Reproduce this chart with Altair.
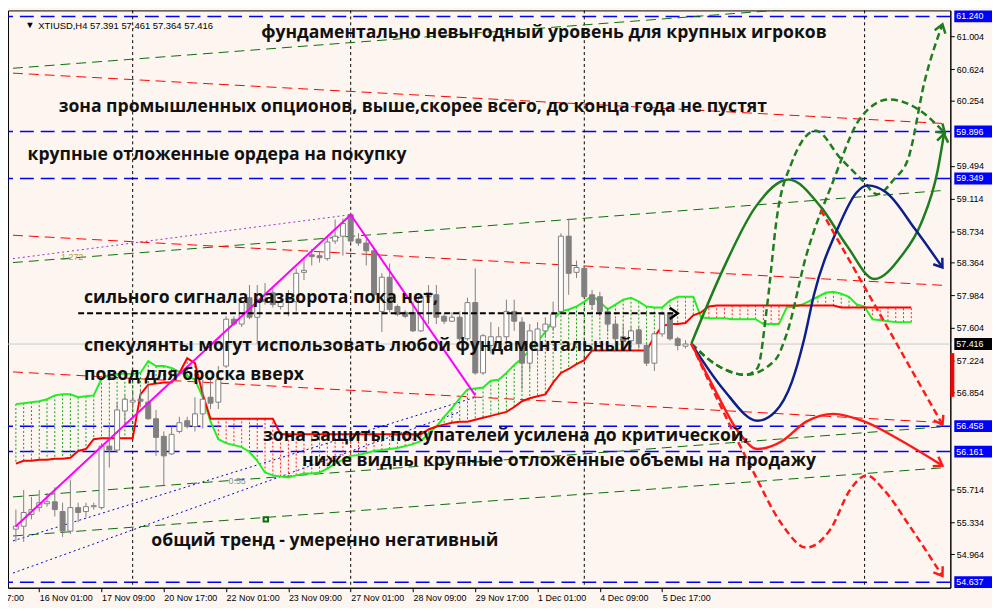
import math
import altair as alt
import pandas as pd

W, H = 950, 582
XMIN, XMAX = -0.375, 119.375
YMIN, YMAX = 54.572, 61.31
SX = W / (XMAX - XMIN)
SY = H / (YMAX - YMIN)
BG = "#fdf6f0"

# ---------------- candles (bar index, OHLC) ----------------
opens = [55.256, 55.290, 55.427, 55.507, 55.552, 55.575, 55.461, 55.233, 55.507, 55.461,
         55.518, 55.507, 56.225, 56.179, 56.635, 56.738, 56.772, 56.738, 56.544, 56.339,
         56.134, 56.396, 56.521, 56.453, 56.601, 56.795, 56.738, 57.159, 57.706, 57.649,
         57.957, 57.729, 57.934, 58.014, 57.854, 57.934, 57.911, 58.253, 58.458, 58.447,
         58.413, 58.618, 58.675, 58.926, 58.641, 58.595, 58.504, 57.797, 58.196, 57.854,
         57.786, 57.786, 57.570, 57.968, 57.991, 57.740, 57.683, 57.729, 57.478, 57.900,
         57.079, 57.399, 57.433, 57.501, 57.797, 57.672, 57.193, 57.342, 57.570, 57.615,
         57.797, 58.675, 58.253, 58.299, 57.991, 57.968, 57.797, 57.649, 57.501, 57.456,
         57.581, 57.399, 57.193, 57.535, 57.763, 57.478, 57.391]
highs = [55.484, 55.712, 55.632, 55.712, 55.678, 55.746, 55.564, 55.826, 55.564, 55.564,
         55.564, 56.259, 56.476, 56.738, 56.817, 56.852, 56.886, 56.931, 56.647, 56.396,
         56.453, 56.567, 56.567, 56.795, 57.000, 57.022, 57.159, 57.740, 57.740, 57.934,
         58.105, 58.105, 58.128, 58.071, 57.991, 58.048, 58.299, 58.424, 58.527, 58.493,
         58.675, 58.869, 58.880, 58.937, 58.709, 58.641, 58.527, 58.242, 58.356, 57.877,
         57.809, 57.911, 57.991, 58.105, 58.105, 57.763, 57.786, 57.797, 57.957, 58.299,
         57.535, 57.672, 57.615, 57.934, 57.934, 57.729, 57.649, 57.672, 57.729, 57.911,
         58.709, 58.880, 58.390, 58.333, 58.048, 58.025, 57.843, 57.706, 57.649, 57.615,
         57.615, 57.421, 57.558, 57.786, 57.786, 57.501, 57.461]
lows = [55.108, 55.108, 55.370, 55.461, 55.518, 55.404, 55.165, 55.199, 55.336, 55.393,
        55.484, 55.484, 55.974, 56.145, 56.476, 56.647, 56.681, 56.532, 56.111, 55.757,
        56.122, 56.373, 56.430, 56.396, 56.430, 56.658, 56.658, 57.136, 57.626, 57.615,
        57.706, 57.421, 57.877, 57.843, 57.820, 57.740, 57.797, 58.162, 58.333, 58.367,
        58.390, 58.584, 58.447, 58.595, 58.561, 58.333, 57.934, 57.558, 57.786, 57.740,
        57.718, 57.558, 57.558, 57.649, 57.649, 57.649, 57.672, 57.456, 57.456, 57.057,
        57.057, 57.307, 57.342, 57.342, 57.570, 56.886, 57.114, 57.285, 57.501, 57.570,
        57.786, 57.991, 58.185, 57.957, 57.820, 57.740, 57.558, 57.364, 57.364, 57.364,
        57.364, 57.159, 57.102, 57.501, 57.456, 57.342, 57.364]
closes = [55.290, 55.450, 55.484, 55.564, 55.575, 55.484, 55.233, 55.507, 55.450, 55.518,
          55.530, 56.225, 56.179, 56.647, 56.772, 56.760, 56.749, 56.544, 56.327, 56.111,
          56.362, 56.498, 56.453, 56.601, 56.772, 56.726, 57.000, 57.706, 57.649, 57.900,
          57.729, 57.934, 57.911, 57.877, 57.900, 57.957, 58.242, 58.276, 58.436, 58.424,
          58.607, 58.675, 58.823, 58.618, 58.595, 58.504, 57.991, 58.196, 57.820, 57.763,
          57.740, 57.570, 57.968, 58.014, 57.729, 57.683, 57.729, 57.478, 57.900, 57.079,
          57.513, 57.501, 57.501, 57.797, 57.683, 57.193, 57.570, 57.592, 57.649, 57.763,
          58.675, 58.242, 58.310, 57.968, 57.877, 57.797, 57.649, 57.478, 57.444, 57.570,
          57.421, 57.193, 57.535, 57.763, 57.478, 57.399, 57.416]

# ---------------- Ichimoku cloud spans (bar index 0..115) ----------------
span_a = [56.715, 56.726, 56.738, 56.749, 56.772, 56.817, 56.829, 56.829, 56.795, 56.806,
          56.817, 57.011, 57.057, 57.068, 57.068, 57.068, 57.079, 57.216, 57.159, 57.159,
          57.136, 57.091, 57.045, 57.000, 56.795, 56.510, 56.305, 56.259, 56.236, 56.213,
          56.156, 56.054, 55.917, 55.883, 55.871, 55.860, 55.883, 55.906, 55.906, 55.917,
          55.963, 56.020, 56.065, 56.111, 56.122, 56.145, 56.168, 56.179, 56.191, 56.202,
          56.225, 56.248, 56.282, 56.373, 56.453, 56.567, 56.669, 56.783, 56.886, 56.897,
          56.909, 56.988, 57.000, 57.079, 57.171, 57.250, 57.342, 57.444, 57.558, 57.695,
          57.797, 57.820, 57.854, 57.911, 57.980, 57.911, 57.820, 57.877, 57.934, 57.957,
          57.911, 57.854, 57.843, 57.843, 57.923, 57.968, 57.968, 57.968, 57.729, 57.718,
          57.718, 57.718, 57.706, 57.706, 57.706, 57.706, 57.649, 57.649, 57.649, 57.843,
          57.854, 57.877, 57.923, 57.968, 58.014, 58.025, 58.003, 57.968, 57.877, 57.854,
          57.706, 57.695, 57.683, 57.672, 57.672, 57.672]
span_b = [56.020, 56.054, 56.054, 56.065, 56.065, 56.077, 56.077, 56.088, 56.168, 56.191,
          56.305, 56.316, 56.316, 56.316, 56.316, 56.316, 56.829, 56.943, 56.954, 56.966,
          56.966, 57.079, 57.250, 57.193, 56.829, 56.544, 56.544, 56.544, 56.544, 56.544,
          56.544, 56.544, 56.544, 56.544, 56.362, 56.362, 56.362, 56.362, 56.362, 56.362,
          56.362, 56.362, 56.362, 56.362, 56.362, 56.362, 56.362, 56.362, 56.362, 56.362,
          56.362, 56.362, 56.362, 56.419, 56.453, 56.476, 56.498, 56.510, 56.510, 56.532,
          56.555, 56.578, 56.601, 56.624, 56.681, 56.749, 56.783, 56.806, 56.829, 56.966,
          57.079, 57.125, 57.182, 57.228, 57.342, 57.342, 57.342, 57.342, 57.342, 57.342,
          57.342, 57.342, 57.501, 57.626, 57.649, 57.649, 57.661, 57.752, 57.786, 57.854,
          57.866, 57.866, 57.866, 57.866, 57.866, 57.866, 57.866, 57.866, 57.866, 57.866,
          57.866, 57.866, 57.866, 57.866, 57.866, 57.866, 57.843, 57.843, 57.843, 57.843,
          57.843, 57.843, 57.843, 57.843, 57.843, 57.843]

# ---------------- levels & lines ----------------
blue_levels = [61.240, 59.896, 59.349, 56.458, 56.161, 54.637]
last_price = 57.416
day_breaks = [15, 43, 73, 109]
# channel lines: (j start, p start, j end, p end)
green_channels = [(-0.375, 60.635, 119.375, 61.461), (-0.375, 58.367, 119.375, 59.211),
                  (-0.375, 55.632, 119.375, 56.453), (-0.375, 55.176, 119.375, 55.974)]
red_channels = [(-0.375, 60.578, 119.375, 59.989), (-0.375, 58.686, 119.375, 58.100),
                (-0.375, 57.091, 119.375, 56.498)]
zigzag_j = [0, 43, 59]
zigzag_p = [55.290, 58.926, 56.817]
fibo_j = [-0.375, 43]
fibo_p = [58.413, 58.926]
fan1_j = [-0.375, 59]
fan1_p = [55.119, 56.795]
fan2_j = [-0.375, 57]
fan2_p = [54.743, 56.624]
signal_j = [8, 85]
signal_p = [57.775, 57.775]

# ---------------- hand-drawn scenarios ----------------
scen = {
    "g_solid": ([86.75, 90.875, 95, 99.25, 103.375, 106.75, 110.25, 113.75, 116.25, 118.375, 119.2],
                [57.421, 58.299, 59.017, 59.336, 59.017, 58.561, 58.174, 58.447, 58.823, 59.438, 59.87]),
    "g_dash1": ([86.75, 90, 93.75, 97.5, 99, 101.5, 105, 108.375, 112.125, 115.875, 119.3],
                [57.421, 57.171, 57.057, 57.228, 57.535, 58.447, 59.325, 60.043, 60.270, 60.156, 59.88]),
    "g_dash2": ([86.75, 90, 93.75, 95.25, 96.5, 97.75, 99.625, 102.75, 105.875, 108.75, 110.625,
                 112.75, 114.625, 116.75, 119],
                [57.421, 57.171, 57.057, 57.136, 57.877, 58.903, 59.530, 59.906, 59.587, 59.325, 59.165,
                 59.336, 59.587, 60.498, 61.148]),
    "navy": ([86.75, 90.875, 95.25, 97.5, 99.625, 101.25, 102.5, 105.5, 108, 109.375, 111.75, 115.5, 119],
             [57.421, 56.886, 56.521, 56.624, 56.966, 57.478, 57.991, 58.755, 59.188, 59.268, 59.188, 58.755, 58.31]),
    "r_solid": ([86.75, 89.625, 92.75, 95.25, 98.375, 101.5, 105, 109, 113.375, 119],
                [57.421, 56.909, 56.396, 56.191, 56.282, 56.510, 56.601, 56.510, 56.305, 55.997]),
    "r_dash1": ([86.75, 90.875, 94.625, 98.375, 101.5, 104.625, 107.125, 109.25, 111.5, 114.625, 119],
                [57.421, 56.624, 55.940, 55.313, 55.040, 55.256, 55.712, 55.883, 55.712, 55.313, 54.709]),
    "r_dash2": ([103.375, 119], [58.983, 56.476]),
}
scen_style = {
    "g_solid": ("#1e7d1e", []), "g_dash1": ("#1e7d1e", [7, 4]), "g_dash2": ("#1e7d1e", [7, 4]),
    "navy": ("#0d1f8c", []), "r_solid": ("#ff1a1a", []), "r_dash1": ("#ff1a1a", [7, 4]),
    "r_dash2": ("#ff1a1a", [7, 4]),
}

notes = ["фундаментально невыгодный уровень для крупных игроков",
         "зона промышленных опционов, выше,скорее всего, до конца года не пустят",
         "крупные отложенные ордера на покупку",
         "сильного сигнала разворота пока нет,",
         "спекулянты могут использовать любой фундаментальный",
         "повод для броска вверх",
         "зона защиты покупателей усилена до критической,",
         "ниже видны крупные отложенные объемы на продажу",
         "общий тренд - умеренно негативный"]
notes_j = [31.5, 5.5, 1.5, 8.75, 8.75, 8.75, 31.75, 36.75, 17.4]
notes_p = [60.988, 60.122, 59.564, 57.900, 57.330, 57.000, 56.282, 55.997, 55.062]

price_ticks = [61.004, 60.624, 60.254, 59.494, 59.114, 58.734, 58.364, 57.984, 57.604,
               57.224, 56.854, 55.714, 55.334, 54.964]
time_ticks = [3, 11, 19, 27, 35, 43, 51, 59, 67, 75, 83]
time_labels = ["16 Nov 01:00", "17 Nov 09:00", "20 Nov 17:00", "22 Nov 01:00", "23 Nov 09:00",
               "27 Nov 01:00", "28 Nov 09:00", "29 Nov 17:00", "1 Dec 01:00", "4 Dec 09:00",
               "5 Dec 17:00"]
cut_label = "7:00"

# ---------------- build ----------------
xs = alt.Scale(domain=[XMIN, XMAX], nice=False, zero=False)
ys = alt.Scale(domain=[YMIN, YMAX], nice=False, zero=False)

lab_expr = "[" + ",".join(f"'{t}'" for t in time_labels) + "][round((datum.value-3)/8)]"
x_axis = alt.Axis(values=time_ticks, labelExpr=lab_expr, labelAlign="left", labelPadding=2,
                  labelFont="Liberation Sans", labelFontSize=9, labelColor="black",
                  tickColor="black", tickSize=4, domainColor="black", grid=False,
                  labelOverlap=False, labelFlush=False, title=None)
y_axis = alt.Axis(orient="right", values=price_ticks, format=".3f", labelPadding=2,
                  labelFont="Liberation Sans", labelFontSize=9, labelColor="black",
                  tickColor="black", tickSize=4, domainColor="black", grid=False,
                  labelOverlap=False, labelFlush=False, title=None)


def X(f="j"):
    return alt.X(f"{f}:Q", scale=xs, axis=x_axis, title=None)


def Y(f="p"):
    return alt.Y(f"{f}:Q", scale=ys, axis=y_axis, title=None)


n = len(opens)
cdf = pd.DataFrame({"j": list(range(n)), "o": opens, "h": highs, "l": lows, "c": closes})
cdf["bl"] = cdf[["o", "c"]].min(axis=1)
cdf["bh"] = cdf[["o", "c"]].max(axis=1)
cdf["fill"] = ["#ffffff" if c >= o else "#808080" for o, c in zip(opens, closes)]

layers = []

# blue horizontal levels
layers.append(alt.Chart(pd.DataFrame({"p": blue_levels})).mark_rule(
    color="#0000ff", strokeWidth=1.5, strokeDash=[14, 7]).encode(y=Y()))
# current price line
layers.append(alt.Chart(pd.DataFrame({"p": [last_price]})).mark_rule(
    color="#c8c8c8", strokeWidth=1).encode(y=Y()))
# day separators
layers.append(alt.Chart(pd.DataFrame({"j": day_breaks})).mark_rule(
    color="black", strokeWidth=1, strokeDash=[3, 3]).encode(x=X()))


def seg_df(segs):
    rows = []
    for k, (j1, p1, j2, p2) in enumerate(segs):
        rows += [{"id": k, "j": j1, "p": p1, "o": 0}, {"id": k, "j": j2, "p": p2, "o": 1}]
    return pd.DataFrame(rows)


layers.append(alt.Chart(seg_df(green_channels)).mark_line(
    color="#0a6e0a", strokeWidth=1, strokeDash=[10, 6], clip=True).encode(
    x=X(), y=Y(), detail="id:N", order="o:Q"))
layers.append(alt.Chart(seg_df(red_channels)).mark_line(
    color="#ff0000", strokeWidth=1, strokeDash=[10, 6], clip=True).encode(
    x=X(), y=Y(), detail="id:N", order="o:Q"))

# fibo / fan dotted lines
layers.append(alt.Chart(pd.DataFrame({"j": fibo_j, "p": fibo_p})).mark_line(
    color="#9b30c8", strokeWidth=1, strokeDash=[2, 3], clip=True).encode(x=X(), y=Y()))
fan = pd.DataFrame({"id": [0, 0, 1, 1], "j": fan1_j + fan2_j, "p": fan1_p + fan2_p})
layers.append(alt.Chart(fan).mark_line(
    color="#0000cc", strokeWidth=1, strokeDash=[2, 3], clip=True).encode(x=X(), y=Y(), detail="id:N"))

# Ichimoku cloud hatching and spans
m = len(span_a)
kdf = pd.DataFrame({"j": list(range(m)), "a": span_a, "b": span_b})
kdf["col"] = ["#11a011" if a >= b else "#ff2020" for a, b in zip(span_a, span_b)]
layers.append(alt.Chart(kdf).mark_rule(strokeWidth=1, strokeDash=[2, 2]).encode(
    x=X(), y=Y("a"), y2="b:Q", color=alt.Color("col:N", scale=None)))
layers.append(alt.Chart(kdf).mark_line(color="#22ee22", strokeWidth=2).encode(x=X(), y=Y("a")))
layers.append(alt.Chart(kdf).mark_line(color="#ff0000", strokeWidth=2).encode(x=X(), y=Y("b")))

# candles
layers.append(alt.Chart(cdf).mark_rule(color="#808080", strokeWidth=1).encode(
    x=X(), y=Y("l"), y2="h:Q"))
layers.append(alt.Chart(cdf).mark_bar(size=5, stroke="#808080", strokeWidth=1).encode(
    x=X(), y=Y("bl"), y2="bh:Q", fill=alt.Fill("fill:N", scale=None)))

# zigzag
layers.append(alt.Chart(pd.DataFrame({"j": zigzag_j, "p": zigzag_p})).mark_line(
    color="#ff00ff", strokeWidth=2).encode(x=X(), y=Y()))

# black dashed signal line
layers.append(alt.Chart(pd.DataFrame({"j": signal_j, "p": signal_p})).mark_line(
    color="black", strokeWidth=2, strokeDash=[6, 3]).encode(x=X(), y=Y()))

# scenarios
arrows = []
for name, (jj, pp) in scen.items():
    col, dash = scen_style[name]
    d = pd.DataFrame({"j": jj, "p": pp})
    mk = dict(color=col, strokeWidth=2.5, interpolate="monotone", clip=True)
    if dash:
        mk["strokeDash"] = dash
    layers.append(alt.Chart(d).mark_line(**mk).encode(x=X(), y=Y()))
    dx = (jj[-1] - jj[-2]) * SX
    dy = -(pp[-1] - pp[-2]) * SY
    ang = math.degrees(math.atan2(dy, dx)) % 360
    arrows.append({"j": jj[-1], "p": pp[-1], "a": ang, "c": col})
arrows.append({"j": signal_j[-1], "p": signal_p[-1], "a": 0.0, "c": "black"})
layers.append(alt.Chart(pd.DataFrame(arrows)).mark_point(
    shape="M -1 -0.7 L 0 0 L -1 0.7", filled=False, strokeWidth=2.5, size=260, opacity=1).encode(
    x=X(), y=Y(), angle=alt.Angle("a:Q", scale=None), color=alt.Color("c:N", scale=None)))

# small marker squares and fib labels
layers.append(alt.Chart(pd.DataFrame({"j": [32.1], "p": [55.37]})).mark_point(
    shape="square", filled=False, size=20, color="#0a6e0a", opacity=1).encode(x=X(), y=Y()))
layers.append(alt.Chart(pd.DataFrame({"j": [5.8, 27.3], "p": [58.40, 55.78], "t": ["1.272", "0.55"],
                                      "c": ["#b89a30", "#7f93a8"]})).mark_text(
    align="left", baseline="alphabetic", font="Liberation Sans", fontSize=9).encode(
    x=X(), y=Y(), text="t:N", color=alt.Color("c:N", scale=None)))

# annotations
ndf = pd.DataFrame({"j": notes_j, "p": notes_p, "t": notes})
layers.append(alt.Chart(ndf).mark_text(
    align="left", baseline="alphabetic", font="Open Sans", fontSize=17.7, fontWeight="bold",
    color="#111111").encode(x=X(), y=Y(), text="t:N"))

# header
hdf = pd.DataFrame({"j": [1.2, 2.875], "p": [61.11, 61.097],
                    "t": ["▼", "XTIUSD,H4  57.391 57.461 57.364 57.416"]})
layers.append(alt.Chart(hdf).mark_text(
    align="left", baseline="alphabetic", font="Liberation Sans", fontSize=9.5, color="black").encode(
    x=X(), y=Y(), text="t:N"))

# cut-off time label at the left edge of the time axis
layers.append(alt.Chart(pd.DataFrame({"t": [cut_label]})).mark_text(
    align="right", baseline="top", font="Liberation Sans", fontSize=9, color="black").encode(
    x=alt.value(16), y=alt.value(H + 6), text="t:N"))

# right side price boxes
bdf = pd.DataFrame({"p": blue_levels + [last_price],
                    "bg": ["#0000ff"] * len(blue_levels) + ["#000000"],
                    "t": [f"{v:.3f}" for v in blue_levels + [last_price]]})
layers.append(alt.Chart(bdf).mark_tick(orient="horizontal", size=38, thickness=12, opacity=1).encode(
    x=alt.value(W + 23), y=Y(), color=alt.Color("bg:N", scale=None)))
layers.append(alt.Chart(bdf).mark_text(
    align="left", baseline="middle", font="Liberation Sans", fontSize=9, color="white").encode(
    x=alt.value(W + 6), y=Y(), text="t:N"))
layers.append(alt.Chart(pd.DataFrame({"p": [57.31], "p2": [56.80]})).mark_rule(
    color="#ff0000", strokeWidth=4).encode(x=alt.value(W + 2), y=Y(), y2="p2:Q"))

chart = alt.layer(*layers).properties(
    width=W, height=H, background=BG,
    autosize=alt.AutoSizeParams(type="none"),
    padding={"left": 0, "top": 0, "right": 42, "bottom": 18},
).configure_view(stroke="black", strokeWidth=1)

chart.save("out.html", embed_options={"renderer": "svg", "actions": False})
